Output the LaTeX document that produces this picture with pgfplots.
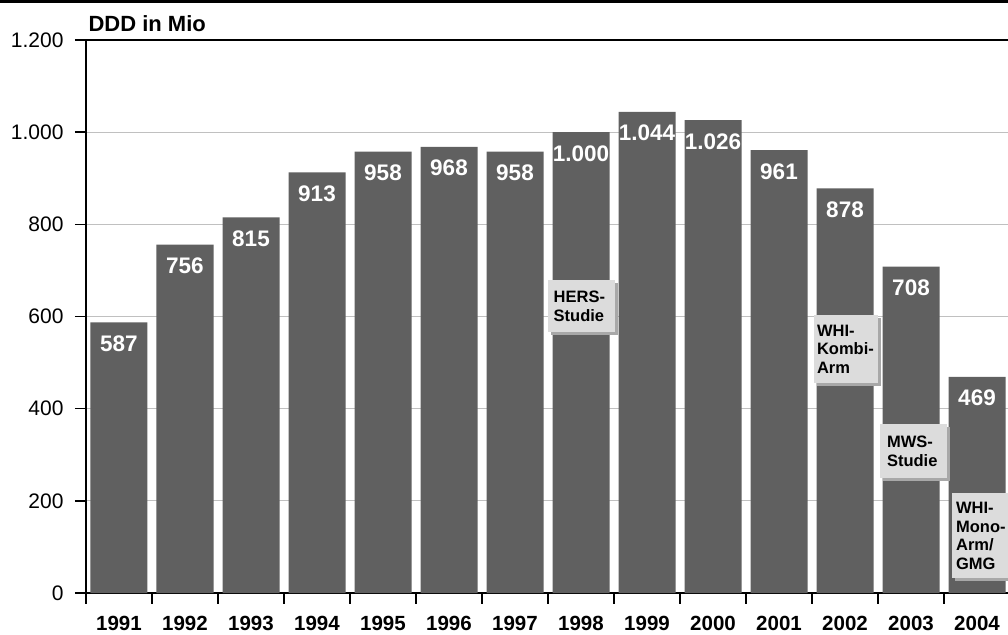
\documentclass[border=0pt]{standalone}
\usepackage{pgfplots}
\pgfplotsset{compat=1.18}
\usepackage{fontspec}
\setmainfont{Liberation Sans}
\usetikzlibrary{shadows}
\definecolor{barc}{HTML}{606060}
\definecolor{gridc}{HTML}{C0C0C0}
\definecolor{boxc}{HTML}{DCDCDC}
\definecolor{shadc}{HTML}{A8A8A8}
\pgfplotsset{/pgf/number format/assume math mode=true}
\tikzset{ann/.style={fill=boxc, align=left, anchor=north west, font=\bfseries\fontsize{16.5}{18.5}\selectfont,
    drop shadow={opacity=1, fill=shadc, shadow xshift=3pt, shadow yshift=-3pt}}}
\begin{document}
\begin{tikzpicture}
\useasboundingbox (-86pt,-41pt) rectangle (922pt,593pt);
\draw[line width=3pt] (-86pt,591.5pt) -- (922pt,591.5pt);
\begin{axis}[
  at={(0,0)}, anchor=south west,
  scale only axis, width=924pt, height=553pt,
  xmin=-0.5, xmax=13.5, ymin=0, ymax=1200,
  clip=false,
  ybar, bar width=57pt,
  xtick={-0.5,0.5,...,13.5},
  xticklabels={1991,1992,1993,1994,1995,1996,1997,1998,1999,2000,2001,2002,2003,2004},
  x tick label as interval,
  xtick pos=bottom, ytick pos=left,
  ytick={0,200,...,1200},
  yticklabel style={/pgf/number format/1000 sep={.}, font=\fontsize{21}{24}\selectfont, xshift=-8pt},
  xticklabel style={font=\bfseries\fontsize{20.5}{24}\selectfont, yshift=-9pt},
  tick align=outside, major tick length=11pt,
  tick style={black, line width=1.4pt},
  axis line style={line width=1.4pt},
  ymajorgrids, grid style={gridc, line width=1.3pt},
  nodes near coords={\pgfmathprintnumber[fixed,precision=0,1000 sep={.}]{\pgfplotspointmeta}},
  every node near coord/.append style={anchor=north, yshift=-13pt, text=white, font=\bfseries\fontsize{22.5}{25}\selectfont, inner sep=0pt},
]
\addplot[fill=barc, draw=none] coordinates {
 (0,587) (1,756) (2,815) (3,913) (4,958) (5,968) (6,958)
 (7,1000) (8,1044) (9,1026) (10,961) (11,878) (12,708) (13,469)};
\node[ann, text width=56pt, inner xsep=5.5pt, inner ysep=11pt] at (axis cs:6.5,679) {HERS-\\Studie};
\node[ann, text width=57pt, inner xsep=3.5pt, inner ysep=9.5pt] at (axis cs:10.52,603) {WHI-\\Kombi-\\Arm};
\node[ann, text width=52pt, inner xsep=7.5pt, inner ysep=12pt] at (axis cs:11.52,367) {MWS-\\Studie};
\node[ann, text width=52pt, inner xsep=4pt, inner ysep=9pt] at (axis cs:12.62,217) {WHI-\\Mono-\\Arm/\\GMG};
\node[anchor=base west, font=\bfseries\fontsize{22}{25}\selectfont, xshift=-1pt, yshift=8pt] at (rel axis cs:0,1) {DDD in Mio};
\end{axis}
\end{tikzpicture}
\end{document}
